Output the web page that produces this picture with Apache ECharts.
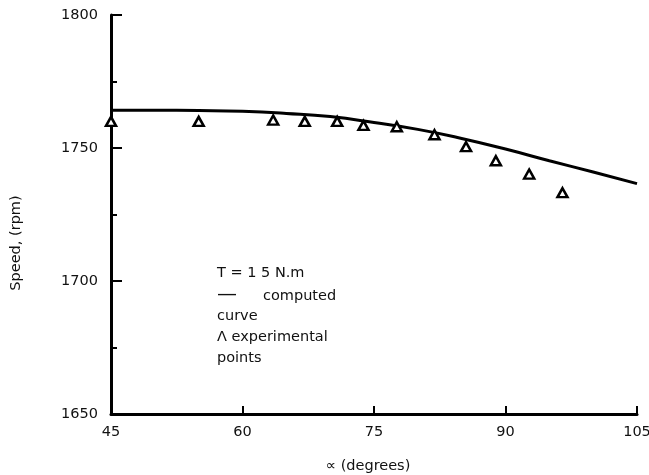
<!DOCTYPE html>
<html>
<head>
<meta charset="utf-8">
<script src="https://cdn.jsdelivr.net/npm/echarts@6/dist/echarts.min.js"></script>
<style>html,body{margin:0;padding:0;background:#fff}#c{width:649px;height:475px}</style>
</head>
<body>
<div id="c"></div>
<script>
// Data
var curveAlpha = [45, 50, 55, 60, 65, 70, 75, 80, 85, 90, 95, 100, 105];
var curveSpeed = [1764.2, 1764.2, 1764.1, 1763.8, 1763.0, 1761.8, 1759.6, 1757.0, 1753.6, 1749.6, 1745.2, 1741.0, 1736.6];
var expAlpha = [45, 55, 63.5, 67.1, 70.8, 73.8, 77.6, 81.9, 85.5, 88.9, 92.7, 96.5];
var expSpeed = [1760, 1760, 1760.5, 1760, 1760, 1758.5, 1758, 1755, 1750.5, 1745.2, 1740.2, 1733.2];
var xTicks = [45, 60, 75, 90, 105];
var yTicks = [1650, 1700, 1750, 1800];

var FONT = '"DejaVu Sans", Verdana, sans-serif';
var chart = echarts.init(document.getElementById('c'), null, {renderer: 'canvas'});
function pairs(a, b) { return a.map(function (v, i) { return [v, b[i]]; }); }

chart.setOption({
  animation: false,
  backgroundColor: '#fff',
  grid: {left: 111, right: 12, top: 15, bottom: 61, containLabel: false, outerBoundsMode: 'none'},
  xAxis: {
    type: 'value', min: 45, max: 105, interval: 15,
    axisLine: {lineStyle: {color: '#000', width: 3}},
    axisTick: {inside: true, length: 8, lineStyle: {color: '#000', width: 2}},
    axisLabel: {color: '#111', fontFamily: FONT, fontSize: 14.5, margin: 11,
      formatter: function (v) { return xTicks.indexOf(v) >= 0 ? String(v) : ''; }},
    splitLine: {show: false}
  },
  yAxis: {
    type: 'value', min: 1650, max: 1800, interval: 50,
    axisLine: {lineStyle: {color: '#000', width: 3}},
    axisTick: {inside: true, length: 11, lineStyle: {color: '#000', width: 2}},
    minorTick: {show: true, splitNumber: 2, length: 6, lineStyle: {color: '#000', width: 2}},
    axisLabel: {color: '#111', fontFamily: FONT, fontSize: 14.5, margin: 13,
      formatter: function (v) { return yTicks.indexOf(v) >= 0 ? String(v) : ''; }},
    splitLine: {show: false}, minorSplitLine: {show: false}
  },
  series: [
    {
      type: 'line', name: 'computed', data: pairs(curveAlpha, curveSpeed),
      smooth: true, showSymbol: false, symbol: 'none',
      lineStyle: {color: '#000', width: 3}, z: 2
    },
    {
      type: 'scatter', name: 'experimental', data: pairs(expAlpha, expSpeed),
      symbol: 'triangle', symbolSize: [10, 9],
      itemStyle: {color: '#fff', borderColor: '#000', borderWidth: 2.5, opacity: 1}, z: 3
    }
  ],
  graphic: [
    {type: 'text', x: 16, y: 243, rotation: Math.PI / 2,
      style: {text: 'Speed, (rpm)', font: '14.5px ' + FONT, fill: '#111', align: 'center', verticalAlign: 'middle'}},
    {type: 'text', x: 368, y: 466,
      style: {text: '\u221d (degrees)', font: '14.5px ' + FONT, fill: '#111', align: 'center', verticalAlign: 'middle'}},
    {type: 'text', x: 217, y: 273, style: {text: 'T = 1 5 N.m', font: '14.5px ' + FONT, fill: '#111', verticalAlign: 'middle'}},
    {type: 'text', x: 217, y: 295, style: {text: '\u2014', font: '20px ' + FONT, fill: '#111', verticalAlign: 'middle'}},
    {type: 'text', x: 263, y: 296, style: {text: 'computed', font: '14.5px ' + FONT, fill: '#111', verticalAlign: 'middle'}},
    {type: 'text', x: 217, y: 316, style: {text: 'curve', font: '14.5px ' + FONT, fill: '#111', verticalAlign: 'middle'}},
    {type: 'text', x: 217, y: 337, style: {text: '\u039b experimental', font: '14.5px ' + FONT, fill: '#111', verticalAlign: 'middle'}},
    {type: 'text', x: 217, y: 358, style: {text: 'points', font: '14.5px ' + FONT, fill: '#111', verticalAlign: 'middle'}}
  ]
});
</script>
</body>
</html>
